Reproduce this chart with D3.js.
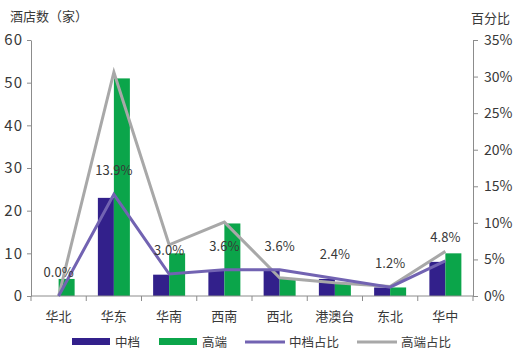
<!DOCTYPE html>
<html>

<head>
  <meta charset="utf8">
  <script src="https://d3js.org/d3.v7.min.js"></script>
  <style>
    body {
      margin: 0;
      background: #fff;
    }

    text {
      font-family: "Noto Sans CJK SC", "Noto Sans", sans-serif;
      fill: #383838;
    }

    .axis path,
    .axis line {
      stroke: #8c8c8c;
    }

    .axis text {
      font-size: 14px;
    }

    .axis.left text {
      font-size: 15px;
      letter-spacing: 1px;
    }

    .cat text {
      font-size: 13px;
    }

    .label {
      font-size: 13px;
      text-anchor: middle;
    }

    .legend text {
      font-size: 12.5px;
    }
  </style>
</head>

<body>
  <svg id="chart" width="520" height="354"></svg>
  <script>
    var chart = d3.select('#chart');

    var regions = ['华北', '华东', '华南', '西南', '西北', '港澳台', '东北', '华中'];
    var midCount = [0, 23, 5, 6, 6, 4, 2, 8];
    var highCount = [4, 51, 10, 17, 4, 3, 2, 10];
    var midShare = [0.0, 13.9, 3.0, 3.6, 3.6, 2.4, 1.2, 4.8];
    var highShare = [0.0, 30.6, 7.0, 10.1, 2.5, 1.8, 1.3, 6.1];
    var countTicks = [0, 10, 20, 30, 40, 50, 60];
    var shareTicks = [0, 5, 10, 15, 20, 25, 30, 35];

    var colors = {
      mid: '#32208b',
      high: '#0ba54a',
      midLine: '#7263b2',
      highLine: '#a8a8a8'
    };

    var plotL = 31, plotR = 473, plotT = 40, plotB = 296;

    var x = d3.scaleBand().domain(regions).range([plotL, plotR]);
    var y = d3.scaleLinear().domain([0, 60]).range([plotB, plotT]);
    var y2 = d3.scaleLinear().domain([0, 35]).range([plotB, plotT]);
    var barW = 16;
    var x1 = d3.scaleBand().domain(['mid', 'high']).range([0, barW * 2]);

    var rows = regions.map((r, i) => ({
      region: r,
      mid: midCount[i],
      high: highCount[i],
      midShare: midShare[i],
      highShare: highShare[i]
    }));

    // titles
    chart.append('text').attr('x', 10).attr('y', 21).style('font-size', '13px').text('酒店数（家）');
    chart.append('text').attr('x', 471).attr('y', 23).style('font-size', '13px').text('百分比');

    // left axis
    chart.append('g')
      .attr('class', 'axis left')
      .attr('transform', 'translate(' + plotL + ',0)')
      .call(d3.axisLeft(y).tickValues(countTicks).tickSize(4).tickSizeOuter(0).tickPadding(4));

    // right axis
    chart.append('g')
      .attr('class', 'axis')
      .attr('transform', 'translate(' + plotR + ',0)')
      .call(d3.axisRight(y2).tickValues(shareTicks).tickSize(5).tickSizeOuter(0).tickPadding(6)
        .tickFormat((d) => d + '%'));

    // bars
    var groups = chart.append('g').selectAll('g')
      .data(rows)
      .enter()
      .append('g')
      .attr('transform', (d) => 'translate(' + (x(d.region) + x.bandwidth() / 2 - barW) + ',0)');

    groups.selectAll('rect')
      .data((d) => [{ key: 'mid', v: d.mid }, { key: 'high', v: d.high }])
      .enter()
      .append('rect')
      .attr('x', (d) => x1(d.key))
      .attr('width', x1.bandwidth())
      .attr('y', (d) => y(d.v))
      .attr('height', (d) => y(0) - y(d.v))
      .attr('fill', (d) => colors[d.key]);

    // bottom axis
    var xAxis = chart.append('g').attr('class', 'axis cat');
    xAxis.append('line')
      .attr('x1', plotL).attr('x2', plotR)
      .attr('y1', plotB).attr('y2', plotB);
    xAxis.selectAll('.tick')
      .data(regions.concat([null]))
      .enter()
      .append('line')
      .attr('x1', (d, i) => plotL + i * x.step())
      .attr('x2', (d, i) => plotL + i * x.step())
      .attr('y1', plotB).attr('y2', plotB + 5);
    xAxis.selectAll('text')
      .data(regions)
      .enter()
      .append('text')
      .attr('x', (d) => x(d) + x.bandwidth() / 2)
      .attr('y', 321)
      .attr('text-anchor', 'middle')
      .text((d) => d);

    // lines
    var cx = (d) => x(d.region) + x.bandwidth() / 2;
    var highLine = d3.line().x(cx).y((d) => y2(d.highShare));
    var midLine = d3.line().x(cx).y((d) => y2(d.midShare));

    chart.append('path')
      .datum(rows)
      .attr('d', highLine)
      .attr('fill', 'none')
      .attr('stroke', colors.highLine)
      .attr('stroke-width', 3);

    chart.append('path')
      .datum(rows)
      .attr('d', midLine)
      .attr('fill', 'none')
      .attr('stroke', colors.midLine)
      .attr('stroke-width', 3);

    // data labels
    chart.append('g').selectAll('text')
      .data(rows)
      .enter()
      .append('text')
      .attr('class', 'label')
      .attr('x', cx)
      .attr('y', (d) => y2(d.midShare) - 19)
      .text((d) => d.midShare.toFixed(1) + '%');

    // legend
    var legendItems = [
      { name: '中档', type: 'rect', color: colors.mid, x: 72 },
      { name: '高端', type: 'rect', color: colors.high, x: 159 },
      { name: '中档占比', type: 'line', color: colors.midLine, x: 245 },
      { name: '高端占比', type: 'line', color: colors.highLine, x: 357 }
    ];
    var legend = chart.append('g').attr('class', 'legend');
    var item = legend.selectAll('g')
      .data(legendItems)
      .enter()
      .append('g')
      .attr('transform', (d) => 'translate(' + d.x + ',342)');
    item.filter((d) => d.type === 'rect')
      .append('rect')
      .attr('x', 0).attr('y', -4)
      .attr('width', 38).attr('height', 7)
      .attr('fill', (d) => d.color);
    item.filter((d) => d.type === 'line')
      .append('line')
      .attr('x1', 0).attr('x2', 40)
      .attr('y1', 0).attr('y2', 0)
      .attr('stroke', (d) => d.color)
      .attr('stroke-width', 3);
    item.append('text')
      .attr('x', (d) => d.type === 'rect' ? 43 : 44)
      .attr('y', 4.5)
      .text((d) => d.name);
  </script>
</body>

</html>
